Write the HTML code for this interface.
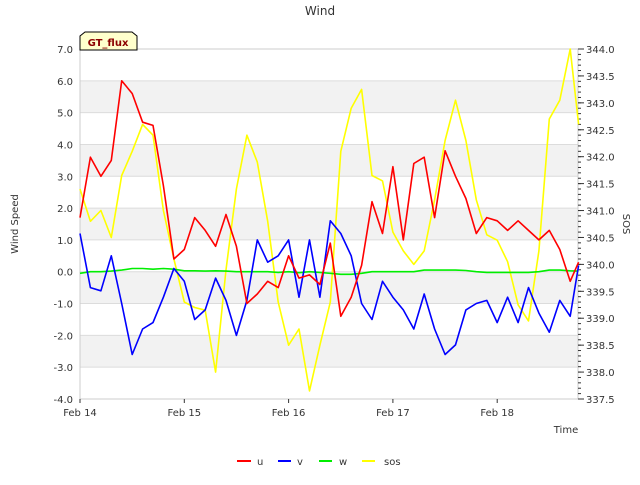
<!DOCTYPE html>
<html><head><meta charset="utf-8"><style>
body{margin:0;background:#fff;font-family:"Liberation Sans","DejaVu Sans",sans-serif}
svg text{font-family:"DejaVu Sans","Liberation Sans",sans-serif}
</style></head><body>
<svg id="c" width="640" height="480" xmlns="http://www.w3.org/2000/svg"></svg>
<script>
const times=[0,0.1,0.2,0.3,0.4,0.5,0.6,0.7,0.8,0.9,1.0,1.1,1.2,1.3,1.4,1.5,1.6,1.7,1.8,1.9,2.0,2.1,2.2,2.3,2.4,2.5,2.6,2.7,2.8,2.9,3.0,3.1,3.2,3.3,3.4,3.5,3.6,3.7,3.8,3.9,4.0,4.1,4.2,4.3,4.4,4.5,4.6,4.7,4.78];
const uVals=[1.7,3.6,3.0,3.5,6.0,5.6,4.7,4.6,2.7,0.4,0.7,1.7,1.3,0.8,1.8,0.8,-1.0,-0.7,-0.3,-0.5,0.5,-0.2,-0.1,-0.4,0.9,-1.4,-0.8,0.2,2.2,1.2,3.3,1.0,3.4,3.6,1.7,3.8,3.0,2.3,1.2,1.7,1.6,1.3,1.6,1.3,1.0,1.3,0.7,-0.3,0.3];
const vVals=[1.2,-0.5,-0.6,0.5,-1.0,-2.6,-1.8,-1.6,-0.8,0.1,-0.3,-1.5,-1.2,-0.2,-0.9,-2.0,-0.9,1.0,0.3,0.5,1.0,-0.8,1.0,-0.8,1.6,1.2,0.5,-1.0,-1.5,-0.3,-0.8,-1.2,-1.8,-0.7,-1.8,-2.6,-2.3,-1.2,-1.0,-0.9,-1.6,-0.8,-1.6,-0.5,-1.3,-1.9,-0.9,-1.4,0.2];
const wVals=[-0.05,0.0,0.0,0.02,0.05,0.1,0.1,0.08,0.1,0.08,0.03,0.03,0.02,0.03,0.02,0.0,0.0,0.0,0.0,-0.02,0.0,-0.03,0.0,-0.02,-0.05,-0.08,-0.08,-0.05,0.0,0.0,0.0,0.0,0.0,0.05,0.05,0.05,0.05,0.04,0.0,-0.02,-0.02,-0.02,-0.02,-0.02,0.0,0.05,0.05,0.03,0.02];
const sosVals=[341.4,340.8,341.0,340.5,341.65,342.1,342.6,342.4,341.0,340.1,339.3,339.2,339.15,338.0,339.9,341.4,342.4,341.9,340.8,339.3,338.5,338.8,337.65,338.5,339.3,342.1,342.9,343.25,341.65,341.55,340.6,340.25,340.0,340.25,341.2,342.3,343.05,342.3,341.2,340.55,340.45,340.05,339.25,338.95,340.25,342.7,343.05,344.0,342.6];
const leftTicks=[-4,-3,-2,-1,0,1,2,3,4,5,6,7];
const rightTicks=[337.5,338,338.5,339,339.5,340,340.5,341,341.5,342,342.5,343,343.5,344];
const dayLabels=["Feb 14","Feb 15","Feb 16","Feb 17","Feb 18"];
const greyBands=[[5,6],[3,4],[1,2],[-1,0],[-3,-2]];

const L=80,R=578,T=49,B=399,PX=104.3;
const X=t=>L+t*PX;
const Y=v=>B-(v+4)/11*(B-T);
const Y2=s=>B-(s-337.5)/6.5*(B-T);
const svg=document.getElementById('c');
const NS="http://www.w3.org/2000/svg";
function mk(tag,attrs,parent){const e=document.createElementNS(NS,tag);for(const k in attrs)e.setAttribute(k,attrs[k]);(parent||svg).appendChild(e);return e;}

greyBands.forEach(b=>{const r=mk('rect',{x:L,y:Y(b[1]),width:R-L,height:Y(b[0])-Y(b[1]),fill:'#f2f2f2'});

});
leftTicks.forEach(v=>{const l=mk('line',{x1:L,x2:R,y1:Y(v),y2:Y(v),stroke:'#dcdcdc','stroke-width':1});


const t=mk('text',{x:73,y:Y(v)+4,'text-anchor':'end','font-size':10,fill:'#333'});t.textContent=v.toFixed(1);

});
const frame=mk('rect',{x:L,y:T,width:R-L,height:B-T,fill:'none',stroke:'#ccc'});


dayLabels.forEach((d,i)=>{mk('line',{x1:X(i),x2:X(i),y1:B,y2:B+4,stroke:'#333'});
const t=mk('text',{x:X(i),y:B+17,'text-anchor':'middle','font-size':10,fill:'#333'});t.textContent=d;

});
for(let s=337.5;s<=344.001;s+=0.1){mk('line',{x1:R,x2:R+3,y1:Y2(s),y2:Y2(s),stroke:'#333'});}
rightTicks.forEach(s=>{mk('line',{x1:R,x2:R+6,y1:Y2(s),y2:Y2(s),stroke:'#333'});
const t=mk('text',{x:586,y:Y2(s)+4,'font-size':10,fill:'#333'});t.textContent=s.toFixed(1);

});

function series(vals,fy,color,name){const d=vals.map((v,i)=>(i?'L':'M')+X(times[i]).toFixed(1)+','+fy(v).toFixed(1)).join('');
const p=mk('path',{d:d,fill:'none',stroke:color,'stroke-width':1.6,'stroke-linejoin':'round'});

}
series(sosVals,Y2,'#ffff00','sos-line');
series(wVals,Y,'#00ee00','w-line');
series(vVals,Y,'#0000ff','v-line');
series(uVals,Y,'#ff0000','u-line');
</script>
<svg width="640" height="480" style="position:absolute;left:0;top:0" xmlns="http://www.w3.org/2000/svg">
<text x="320" y="15" text-anchor="middle" font-size="12" fill="#333">Wind</text>
<text transform="translate(18,224) rotate(-90)" text-anchor="middle" font-size="10" fill="#333">Wind Speed</text>
<text transform="translate(623,224) rotate(90)" text-anchor="middle" font-size="10" fill="#333">SOS</text>
<text x="566" y="433" text-anchor="middle" font-size="10" fill="#333">Time</text>
<g><path d="M80,50 L80,36 L85,32 L132,32 L137,36 L137,50 Z" fill="#ffffcc" stroke="#000"/>
<text x="108" y="46" text-anchor="middle" font-size="10" font-weight="bold" fill="#8b0000">GT_flux</text></g>
<g>
<line x1="237" x2="251" y1="461" y2="461" stroke="#ff0000" stroke-width="2"/><text x="257" y="465" font-size="10" fill="#333">u</text>
<line x1="278" x2="291" y1="461" y2="461" stroke="#0000ff" stroke-width="2"/><text x="297" y="465" font-size="10" fill="#333">v</text>
<line x1="319" x2="332" y1="461" y2="461" stroke="#00ee00" stroke-width="2"/><text x="339" y="465" font-size="10" fill="#333">w</text>
<line x1="362" x2="375" y1="461" y2="461" stroke="#ffff00" stroke-width="2"/><text x="384" y="465" font-size="10" fill="#333">sos</text>
</g>
</svg>
</body></html>
